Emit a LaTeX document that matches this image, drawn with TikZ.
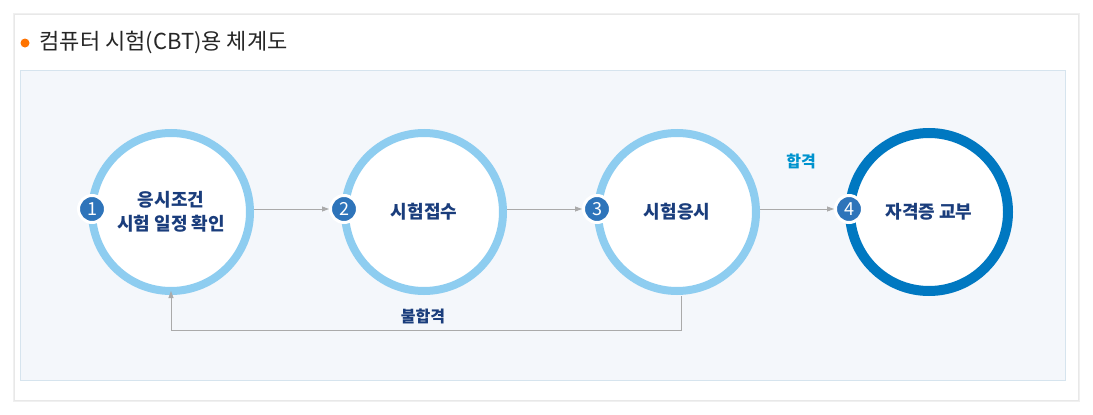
\documentclass[tikz,border=0pt]{standalone}
\usepackage{fontspec}
\newfontfamily\kr{Noto Sans CJK KR}
\newfontfamily\krm{Noto Sans CJK KR Medium}
\usetikzlibrary{arrows.meta,shadows}
\definecolor{ring}{HTML}{8ECDF0}
\definecolor{ringd}{HTML}{0078C1}
\definecolor{badge}{HTML}{2E74BA}
\definecolor{navy}{HTML}{1A3D7C}
\definecolor{panel}{HTML}{F4F7FB}
\definecolor{pborder}{HTML}{D6E4EE}
\definecolor{lgray}{HTML}{AAAAAA}
\begin{document}
\begin{tikzpicture}[x=1pt,y=-1pt,
  stepc/.style={circle,draw=ring,line width=8pt,fill=white,minimum size=158pt,inner sep=0pt,align=center,font=\kr\bfseries\fontsize{18}{24}\selectfont,text=navy},
  badgec/.style={circle,fill=badge,draw=white,line width=3pt,minimum size=27pt,inner sep=0pt,text=white,font=\kr\fontsize{18}{18}\selectfont},
  conn/.style={lgray,line width=0.8pt,-{Triangle[length=7pt,width=5pt]}},
  lbl/.style={font=\kr\bfseries\fontsize{16}{16}\selectfont}]
\useasboundingbox (0,0) rectangle (1093,415);
\fill[white] (0,0) rectangle (1093,415);
\fill[black!6] (13,13) rectangle (1080,402);
\fill[black!9] (14,14) rectangle (1079,401);
\fill[white] (15,15) rectangle (1078,400);
\draw[pborder,fill=panel] (20,70) rectangle (1065,380);
\fill[orange!90!red] (25,43) circle (4.5);
\node[anchor=west,font=\kr\fontsize{22}{22}\selectfont,text=black!85] (title) at (36,42) {컴퓨터 시험(CBT)용 체계도};
\node[stepc] (c1) at (171,212) {응시조건\\시험 일정 확인};
\node[stepc] (c2) at (424,212) {시험접수};
\node[stepc] (c3) at (677,212) {시험응시};
\node[stepc,draw=ringd,line width=10pt] (c4) at (929,212) {자격증 교부};
\node[badgec] (b1) at (92,209) {1};
\node[badgec] (b2) at (344,209) {2};
\node[badgec] (b3) at (597,209) {3};
\node[badgec] (b4) at (849,209) {4};
\draw[conn] (c1.east |- b1) -- (b2.west);
\draw[conn] (c2.east |- b2) -- (b3.west);
\draw[conn] (c3.east |- b3) -- (b4.west);
\coordinate (r1) at (681,330);
\coordinate (r2) at (171,330);
\draw[conn] (681,296) -- (r1) -- (r2) -- ([yshift=4pt]c1.south);
\node[lbl,text=navy] (fail) at (423,316) {불합격};
\node[lbl,text=ringd!80!cyan] (pass) at (801,161) {합격};
\end{tikzpicture}
\end{document}
